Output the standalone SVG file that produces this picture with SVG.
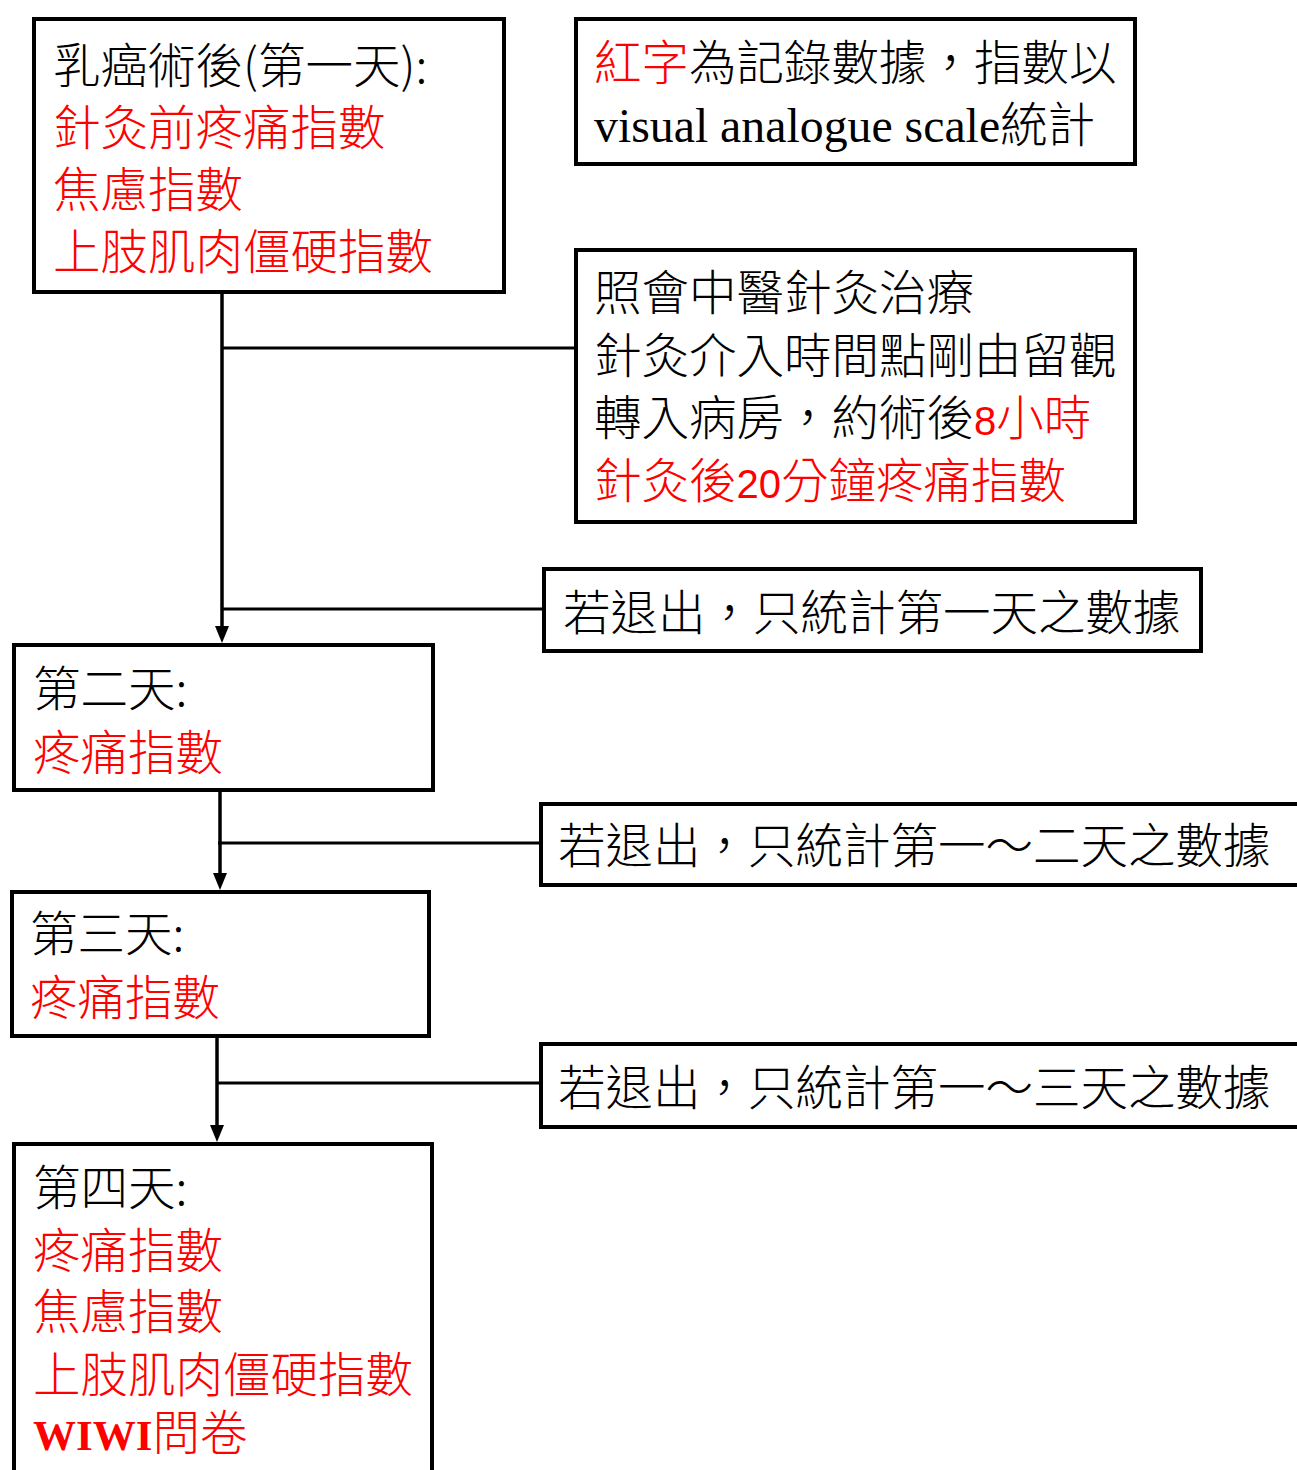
<svg xmlns="http://www.w3.org/2000/svg" width="1297" height="1470" viewBox="0 0 1297 1470">
<style>
.box{fill:#fff;stroke:#000;stroke-width:4}
.t{font-family:'Noto Sans CJK TC','Noto Sans CJK SC',sans-serif;font-size:47.5px;font-weight:300;fill:#000}
.r{fill:#ff0000}
.lat{font-family:'Liberation Serif',serif}
.num{font-family:'Liberation Sans',sans-serif;font-size:40px}
.v{stroke:#000;stroke-width:3.5;fill:none}
.h{stroke:#000;stroke-width:3;fill:none}
</style>
<defs>
<marker id="arr" viewBox="0 0 17 14" refX="0" refY="7" markerWidth="17" markerHeight="14" markerUnits="userSpaceOnUse" orient="auto">
<path d="M0,0 L17,7 L0,14 z" fill="#000"/>
</marker>
</defs>
<rect width="1297" height="1470" fill="#fff"/>
<g id="connectors">
<line class="v" x1="222" y1="293" x2="222" y2="626" marker-end="url(#arr)"/>
<line class="h" x1="222" y1="348" x2="574" y2="348"/>
<line class="h" x1="222" y1="609" x2="543" y2="609"/>
<line class="v" x1="220" y1="792" x2="220" y2="873" marker-end="url(#arr)"/>
<line class="h" x1="218" y1="843" x2="540" y2="843"/>
<line class="v" x1="217" y1="1037" x2="217" y2="1125" marker-end="url(#arr)"/>
<line class="h" x1="217" y1="1083" x2="540" y2="1083"/>
</g>
<g id="day1">
<rect class="box" x="34" y="19" width="470" height="273"/>
<text class="t" x="53" y="83">乳癌術後(第一天):</text>
<text class="t r" x="53" y="145">針灸前疼痛指數</text>
<text class="t r" x="53" y="207">焦慮指數</text>
<text class="t r" x="53" y="269">上肢肌肉僵硬指數</text>
</g>
<g id="note">
<rect class="box" x="576" y="19" width="559" height="145"/>
<text class="t" x="594" y="80"><tspan class="r">紅字</tspan>為記錄數據，指數以</text>
<text class="t" x="594" y="142"><tspan class="lat" font-size="47.8">visual analogue scale</tspan>統計</text>
</g>
<g id="acupuncture">
<rect class="box" x="576" y="250" width="559" height="272"/>
<text class="t" x="594" y="310">照會中醫針灸治療</text>
<text class="t" x="594" y="373">針灸介入時間點剛由留觀</text>
<text class="t" x="594" y="435">轉入病房，約術後<tspan class="r num">8</tspan><tspan class="r">小時</tspan></text>
<text class="t r" x="594" y="498">針灸後<tspan class="num">20</tspan>分鐘疼痛指數</text>
</g>
<g id="exit1">
<rect class="box" x="544" y="569" width="657" height="82"/>
<text class="t" x="563" y="630">若退出，只統計第一天之數據</text>
</g>
<g id="day2">
<rect class="box" x="14" y="645" width="419" height="145"/>
<text class="t" x="33" y="706">第二天:</text>
<text class="t r" x="33" y="770">疼痛指數</text>
</g>
<g id="exit2">
<rect class="box" x="541" y="804" width="780" height="81"/>
<text class="t" x="558" y="863">若退出，只統計第一～二天之數據</text>
</g>
<g id="day3">
<rect class="box" x="12" y="892" width="417" height="144"/>
<text class="t" x="30" y="951">第三天:</text>
<text class="t r" x="30" y="1015">疼痛指數</text>
</g>
<g id="exit3">
<rect class="box" x="541" y="1044" width="780" height="83"/>
<text class="t" x="558" y="1105">若退出，只統計第一～三天之數據</text>
</g>
<g id="day4">
<rect class="box" x="14" y="1144" width="418" height="340"/>
<text class="t" x="33" y="1205">第四天:</text>
<text class="t r" x="33" y="1268">疼痛指數</text>
<text class="t r" x="33" y="1329">焦慮指數</text>
<text class="t r" x="33" y="1392">上肢肌肉僵硬指數</text>
<text class="t r" x="33" y="1450"><tspan class="lat" font-weight="bold" font-size="43">WIWI</tspan>問卷</text>
</g>
</svg>
